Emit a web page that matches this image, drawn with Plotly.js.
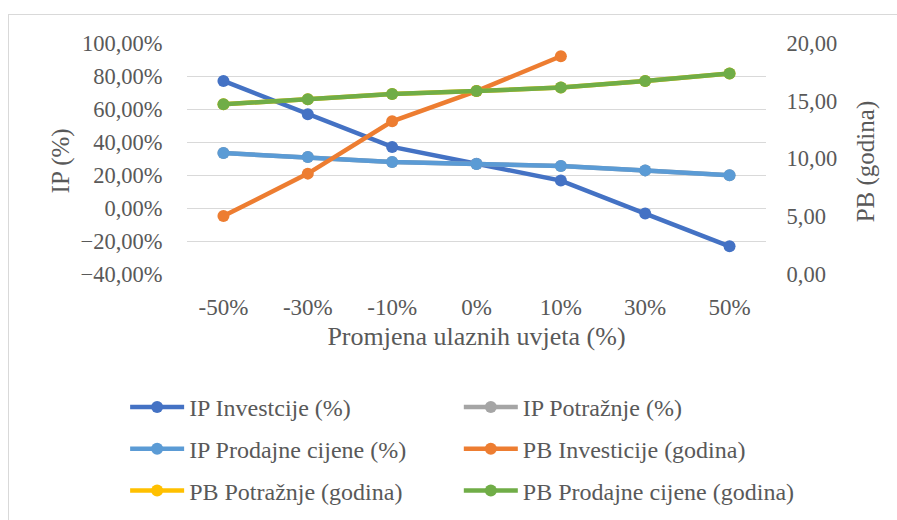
<!DOCTYPE html>
<html>
<head>
<meta charset="utf-8">
<script src="https://cdn.plot.ly/plotly-3.0.1.min.js"></script>
<style>
html,body{margin:0;padding:0;background:#fff;}
#wrap{position:relative;width:897px;height:520px;overflow:hidden;}
#frame{position:absolute;left:8px;top:14px;width:900px;height:520px;border-left:1px solid #d9d9d9;border-top:1px solid #d9d9d9;pointer-events:none;}
#chart{position:absolute;left:0;top:0;width:897px;height:520px;}
</style>
</head>
<body>
<div id="wrap"><div id="chart"></div><div id="frame"></div></div>
<script>
const categories = ['-50%', '-30%', '-10%', '0%', '10%', '30%', '50%'];
const ipInvesticije = [77.0, 56.8, 37.0, 26.8, 16.6, -3.4, -23.2];
const ipPotraznje = [33.3, 30.9, 27.9, 26.6, 25.5, 22.8, 19.8];
const ipProdajneCijene = [33.3, 30.9, 27.9, 26.6, 25.5, 22.8, 19.8];
const pbInvesticije = [5.02, 8.69, 13.22, 15.84, 18.85];
const pbPotraznje = [14.69, 15.13, 15.58, 15.84, 16.14, 16.71, 17.35];
const pbProdajneCijene = [14.69, 15.13, 15.58, 15.84, 16.14, 16.71, 17.35];
const leftTitle = 'IP (%)';
const rightTitle = 'PB (godina)';
const xTitle = 'Promjena ulaznih uvjeta (%)';

const FONT = '"Liberation Serif", "Times New Roman", Times, serif';
const TXT = '#595959';
const CLEAR = 'rgba(0,0,0,0)';

function tr(name, y, color, axis, legend, grp) {
  return {
    type: 'scatter', mode: 'lines+markers', name: name,
    x: categories.slice(0, y.length), y: y,
    yaxis: axis, legend: legend, legendgroup: grp,
    line: {color: color, width: 4.5},
    marker: {color: color, size: 12},
    hoverinfo: 'skip'
  };
}

const data = [
  tr('IP Investcije (%)', ipInvesticije, '#4472C4', 'y', 'legend', 'a'),
  tr('IP Potražnje (%)', ipPotraznje, '#A5A5A5', 'y', 'legend2', 'b'),
  tr('IP Prodajne cijene (%)', ipProdajneCijene, '#5B9BD5', 'y', 'legend', 'c'),
  tr('PB Investicije (godina)', pbInvesticije, '#ED7D31', 'y2', 'legend2', 'd'),
  tr('PB Potražnje (godina)', pbPotraznje, '#FFC000', 'y2', 'legend', 'e'),
  tr('PB Prodajne cijene (godina)', pbProdajneCijene, '#70AD47', 'y2', 'legend2', 'f')
];

const legendBase = {
  xref: 'container', yref: 'container', xanchor: 'left', yanchor: 'top',
  orientation: 'v', traceorder: 'grouped', tracegroupgap: 7.5,
  font: {family: FONT, size: 24, color: TXT}, bgcolor: CLEAR,
  itemwidth: 54
};

const layout = {
  width: 897, height: 520,
  margin: {l: 186.6, r: 130.6, t: 42.7, b: 246.3, autoexpand: false},
  paper_bgcolor: '#fff', plot_bgcolor: '#fff',
  font: {family: FONT, color: TXT, size: 22},
  showlegend: true,
  xaxis: {
    type: 'category', categoryorder: 'array', categoryarray: categories,
    showgrid: false, zeroline: false, showline: false,
    ticks: 'outside', ticklen: 12, tickcolor: CLEAR,
    automargin: true, tickangle: 0,
    tickfont: {family: FONT, size: 23, color: TXT},
    title: {text: xTitle, font: {family: FONT, size: 26, color: TXT}, standoff: 8}
  },
  yaxis: {
    range: [-40, 100], dtick: 20, tick0: 0,
    tickformat: '.2f', ticksuffix: '%',
    showgrid: true, gridcolor: '#d9d9d9', gridwidth: 1,
    zeroline: false, showline: false,
    ticks: 'outside', ticklen: 19, tickcolor: CLEAR, automargin: false,
    tickfont: {family: FONT, size: 22.5, color: TXT}
  },
  yaxis2: {
    overlaying: 'y', side: 'right',
    range: [0, 20], dtick: 5, tick0: 0, tickformat: '.2f',
    showgrid: false, zeroline: false, showline: false,
    ticks: 'outside', ticklen: 15, tickcolor: CLEAR, automargin: false,
    tickfont: {family: FONT, size: 22.5, color: TXT}
  },
  annotations: [
    {text: leftTitle, xref: 'paper', yref: 'paper', x: -0.2183, y: 0.49,
     xanchor: 'center', yanchor: 'middle', textangle: -90, showarrow: false,
     font: {family: FONT, size: 25, color: TXT}},
    {text: rightTitle, xref: 'paper', yref: 'paper', x: 1.1718, y: 0.49,
     xanchor: 'center', yanchor: 'middle', textangle: -90, showarrow: false,
     font: {family: FONT, size: 25, color: TXT}}
  ],
  separators: ', ',
  legend: Object.assign({}, legendBase, {x: 0.1395, y: 0.2597}),
  legend2: Object.assign({}, legendBase, {x: 0.5115, y: 0.2597})
};

Plotly.newPlot('chart', data, layout, {displayModeBar: false, staticPlot: true});
</script>
</body>
</html>
